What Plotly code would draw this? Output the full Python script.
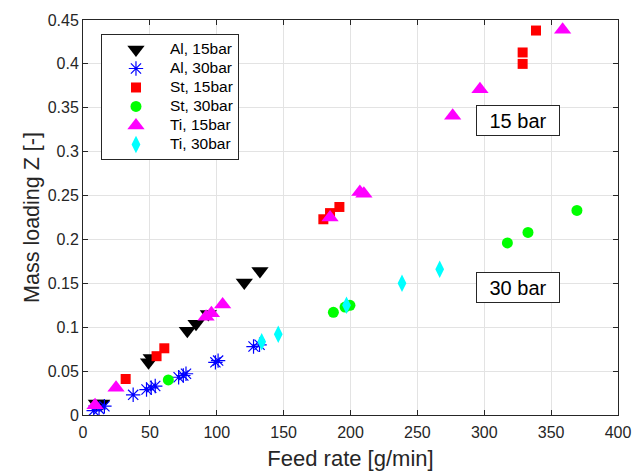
import plotly.graph_objects as go

# Al, 15 bar
al15_x = [10, 14, 49, 51, 78, 84.5, 93.7, 120.6, 132.3]
al15_y = [0.013, 0.013, 0.060, 0.065, 0.096, 0.104, 0.115, 0.151, 0.164]
# Al, 30 bar
al30_x = [8, 12, 16, 37.5, 47.5, 51, 54, 71.5, 75, 77, 99, 101, 127.5, 132]
al30_y = [0.005, 0.007, 0.010, 0.023, 0.029, 0.031, 0.033, 0.043, 0.045, 0.047, 0.060, 0.062, 0.078, 0.080]
# St, 15 bar
st15_x = [31.9, 55, 60.8, 179.7, 184.7, 191.7, 328.7, 328.7, 338.7]
st15_y = [0.041, 0.067, 0.076, 0.223, 0.230, 0.237, 0.400, 0.413, 0.438]
# St, 30 bar
st30_x = [63.8, 187.2, 195.9, 199.6, 317.3, 332.7, 369.3]
st30_y = [0.040, 0.117, 0.123, 0.125, 0.196, 0.208, 0.233]
# Ti, 15 bar
ti15_x = [9, 24.7, 92, 96, 104.4, 184.7, 207, 210, 276.4, 296.8, 358.6]
ti15_y = [0.011, 0.031, 0.112, 0.116, 0.126, 0.225, 0.254, 0.252, 0.341, 0.371, 0.439]
# Ti, 30 bar
ti30_x = [133.6, 146, 197, 238.5, 266.7]
ti30_y = [0.0835, 0.092, 0.125, 0.150, 0.166]

x_ticks = [0, 50, 100, 150, 200, 250, 300, 350, 400]
y_ticks = [0, 0.05, 0.1, 0.15, 0.2, 0.25, 0.3, 0.35, 0.4, 0.45]
y_tick_labels = ["0", "0.05", "0.1", "0.15", "0.2", "0.25", "0.3", "0.35", "0.4", "0.45"]

FONT = "Liberation Sans, Arial, Helvetica, sans-serif"
AXC = "#262626"

fig = go.Figure()

def add(name, x, y, symbol, color, size, open_line=False):
    marker = dict(symbol=symbol, color=color, size=size, line=dict(width=0))
    if open_line:
        marker["line"] = dict(width=1.2, color=color)
    label = "<span style='font-size:15.5px'>%s</span>" % name
    fig.add_trace(go.Scatter(x=x, y=y, mode="markers", name=label, marker=marker))

add("Al, 15bar", al15_x, al15_y, "triangle-down", "#000000", 15)
add("Al, 30bar", al30_x, al30_y, "asterisk-open", "#0000ff", 12, open_line=True)
add("St, 15bar", st15_x, st15_y, "square", "#ff0000", 10)
add("St, 30bar", st30_x, st30_y, "circle", "#00ff00", 11)
add("Ti, 15bar", ti15_x, ti15_y, "triangle-up", "#ff00ff", 15)
add("Ti, 30bar", ti30_x, ti30_y, "diamond-tall", "#00ffff", 12.5)

axis_common = dict(
    showline=True, linecolor=AXC, linewidth=1, mirror="ticks",
    ticks="inside", ticklen=5, tickcolor=AXC, tickwidth=1,
    showgrid=True, gridcolor="#e3e3e3", gridwidth=1,
    zeroline=False, automargin=False,
)

fig.update_xaxes(range=[0, 400], tickvals=x_ticks,
                 tickfont=dict(family=FONT, size=16, color=AXC), ticklabelstandoff=3,
                 title=dict(text="Feed rate [g/min]", font=dict(family=FONT, size=22, color=AXC), standoff=10),
                 **axis_common)
fig.update_yaxes(range=[0, 0.45], tickvals=y_ticks, ticktext=y_tick_labels,
                 tickfont=dict(family=FONT, size=16, color=AXC),
                 title=dict(text="Mass loading Z [-]", font=dict(family=FONT, size=21.5, color=AXC), standoff=2),
                 **axis_common)

for txt, xv, yv in [("15 bar", 325, 0.335), ("30 bar", 325, 0.1447)]:
    fig.add_annotation(x=xv, y=yv, xref="x", yref="y", text=txt, showarrow=False,
                       font=dict(family=FONT, size=20, color="#000000"),
                       bordercolor="#262626", borderwidth=1, borderpad=3,
                       bgcolor="#ffffff", width=76, height=23)

fig.update_layout(
    width=634, height=471,
    margin=dict(l=83, r=16, t=20, b=56),
    paper_bgcolor="#ffffff", plot_bgcolor="#ffffff",
    font=dict(family=FONT, size=15, color=AXC),
    legend=dict(x=0.0336, y=0.9646, xanchor="left", yanchor="top",
                bordercolor="#262626", borderwidth=1, bgcolor="#ffffff",
                font=dict(family=FONT, size=12, color="#000000"),
                itemwidth=58, tracegroupgap=0),
)

fig.write_html("out.html")
